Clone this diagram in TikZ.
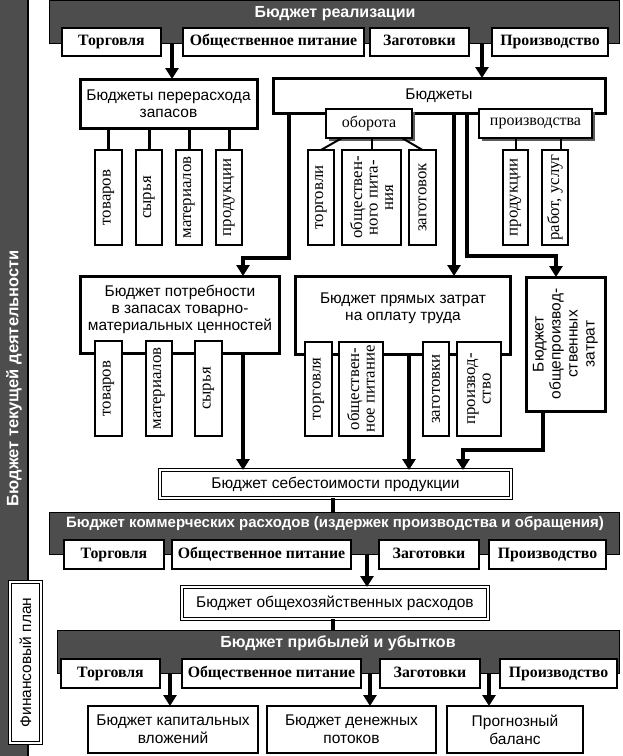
\documentclass[tikz,border=0pt]{standalone}
\usepackage{fontspec}
\setmainfont{Liberation Serif}
\setsansfont{Liberation Sans}
\usetikzlibrary{arrows.meta,shadows}
\definecolor{darkband}{RGB}{77,77,77}
\definecolor{shadowgrey}{RGB}{90,90,90}
\begin{document}
\begin{tikzpicture}[x=1pt,y=-1pt,
  sz/.style 2 args={minimum width=#1pt, minimum height=#2pt},
  base/.style={inner sep=0pt, outer sep=0pt, align=center},
  stripbox/.style={base, fill=darkband, rotate=90, text=white, font=\sffamily\bfseries\fontsize{16.5}{18}\selectfont},
  band/.style={base, draw=black, fill=darkband, line width=1pt},
  bandtitle/.style={inner sep=0pt, text=white, font=\sffamily\bfseries\fontsize{16}{18}\selectfont},
  lab/.style={base, draw=black, fill=white, line width=1.5pt, text height=11pt, text depth=3.5pt, font=\rmfamily\bfseries\fontsize{15.8}{17}\selectfont},
  bigbox/.style={base, draw=black, fill=white, line width=3pt, font=\sffamily\fontsize{15.5}{17}\selectfont},
  plainbox/.style={base, draw=black, fill=white, line width=2pt, font=\sffamily\fontsize{15.5}{18}\selectfont},
  dbox/.style={base, draw=black, fill=white, double=white, double distance=2pt, line width=1.2pt, font=\sffamily\fontsize{15.5}{17}\selectfont},
  shbox/.style={base, draw=black, fill=white, line width=1.5pt, font=\rmfamily\fontsize{16}{17}\selectfont, drop shadow={shadow xshift=3pt, shadow yshift=-3pt, fill=shadowgrey, opacity=1}},
  vbox/.style={base, draw=black, fill=white, line width=1.4pt, rotate=90, font=\rmfamily\fontsize{16.8}{15.5}\selectfont},
  boxtext/.style={inner sep=0pt, align=center, font=\sffamily\fontsize{15.5}{17}\selectfont},
  arr/.style={line width=4.5pt, -{Triangle[width=13pt,length=11pt]}},
  thickline/.style={line width=4pt},
  conn/.style={line width=3pt},
  thinconn/.style={line width=2pt}
]
\useasboundingbox (0,0) rectangle (622,756);
\fill[white] (0,0) rectangle (622,756);

% left strip
\node[stripbox, sz={756}{28}] (strip) at (14,378) {Бюджет текущей деятельности};
\draw[line width=1.5pt] (strip.south west) -- (strip.south east);
\node[dbox, rotate=90, sz={161}{31}] (fin) at (25.5,662.5) {Финансовый план};

% band 1
\node[band, sz={570}{43}] (band1) at (334,21.5) {};
\node[bandtitle] (title1) at (335,14) {Бюджет реализации};
\node[lab, sz={99}{28}] (t1) at (111.5,42) {Торговля};
\node[lab, sz={181}{28}] (o1) at (273.5,42) {Общественное питание};
\node[lab, sz={99}{28}] (z1) at (419.5,42) {Заготовки};
\node[lab, sz={116}{28}] (p1) at (550,42) {Производство};

% row 2
\node[bigbox, sz={177}{49}] (perer) at (168.5,103.5) {Бюджеты перерасхода\\запасов};
\node[bigbox, sz={332}{35}] (byud) at (439,95.5) {Бюджеты};
\node[shbox, sz={86}{29}] (ob) at (369,123.5) {оборота};
\node[shbox, sz={113}{29}] (pr) at (535.5,123.5) {производства};

\node[vbox, sz={95}{27}] (v1) at (108.5,197.5) {товаров};
\node[vbox, sz={95}{26}] (v2) at (149,197.5) {сырья};
\node[vbox, sz={95}{26}] (v3) at (189,197.5) {материалов};
\node[vbox, sz={95}{26}] (v4) at (229,197.5) {продукции};
\node[vbox, sz={95}{26}] (v5) at (321,197.5) {торговли};
\node[vbox, sz={95}{59}] (v6) at (371.5,197.5) {обществен-\\ного пита-\\ния};
\node[vbox, sz={95}{27}] (v7) at (422.5,197.5) {заготовок};
\node[vbox, sz={95}{25}] (v8) at (515.5,197.5) {продукции};
\node[vbox, sz={95}{26}] (v9) at (555,197.5) {работ, услуг};

% row 3
\node[bigbox, sz={199}{77}] (potreb) at (179.5,314.5) {};
\node[boxtext] (potrebtxt) at (180,309) {Бюджет потребности\\в запасах товарно-\\материальных ценностей};
\node[vbox, sz={95}{27}] (v10) at (108.5,388.5) {товаров};
\node[vbox, sz={95}{26}] (v11) at (159,388.5) {материалов};
\node[vbox, sz={95}{27}] (v12) at (208.5,388.5) {сырья};

\node[bigbox, sz={215}{78}] (pryam) at (402.5,315) {};
\node[boxtext] (pryamtxt) at (403,308.5) {Бюджет прямых затрат\\на оплату труда};
\node[vbox, sz={94}{27}] (v13) at (318.5,389) {торговля};
\node[vbox, sz={94}{44}] (v14) at (361,389) {обществен-\\ное питание};
\node[vbox, sz={94}{26}] (v15) at (436,389) {заготовки};
\node[vbox, sz={94}{44}] (v16) at (479,389) {производ-\\ство};

\node[bigbox, rotate=90, sz={134}{79}] (obshpr) at (565.5,344) {Бюджет\\общепроизвод-\\ственных\\затрат};

\node[dbox, sz={351}{28}] (sebest) at (335.5,484) {Бюджет себестоимости продукции};

% band 2
\node[band, sz={570}{42}] (band2) at (334,533) {};
\node[bandtitle, font=\sffamily\bfseries\fontsize{15}{16}\selectfont] (title2) at (335,524) {Бюджет коммерческих расходов (издержек производства и обращения)};
\node[lab, sz={100}{29}] (t2) at (114,554.5) {Торговля};
\node[lab, sz={179}{29}] (o2) at (261.5,554.5) {Общественное питание};
\node[lab, sz={100}{29}] (z2) at (429,554.5) {Заготовки};
\node[lab, sz={117}{29}] (p2) at (547.5,554.5) {Производство};

\node[dbox, sz={306}{32}] (obshhoz) at (335,603) {Бюджет общехозяйственных расходов};

% band 3
\node[band, sz={562}{43}] (band3) at (338,651.5) {};
\node[bandtitle] (title3) at (338,643) {Бюджет прибылей и убытков};
\node[lab, sz={99}{29}] (t3) at (110.5,673.5) {Торговля};
\node[lab, sz={179}{29}] (o3) at (271.5,673.5) {Общественное питание};
\node[lab, sz={100}{29}] (z3) at (430,673.5) {Заготовки};
\node[lab, sz={117}{29}] (p3) at (558.5,673.5) {Производство};

\node[plainbox, sz={170}{47}] (kap) at (173,729.5) {Бюджет капитальных\\вложений};
\node[plainbox, sz={169}{47}] (den) at (351.5,729.5) {Бюджет денежных\\потоков};
\node[plainbox, sz={136}{47}] (prog) at (515,729.5) {Прогнозный\\баланс};

% connectors
\coordinate (a1) at (172,0);
\coordinate (a2) at (482,0);
\draw[arr] (band1.south -| a1) -- (perer.north -| a1);
\draw[arr] (band1.south -| a2) -- (byud.north -| a2);

\foreach \v in {v1,v2,v3,v4} \draw[conn] (\v.east) -- (\v.east |- perer.south);
\draw[thinconn] ([xshift=16pt]ob.south west) -- (v5.east);
\draw[thinconn] (v6.east) -- (v6.east |- ob.south);
\draw[thinconn] ([xshift=-10pt]ob.south east) -- (v7.east);
\draw[thinconn] (v8.east) -- (v8.east |- pr.south);
\coordinate (q9) at ([xshift=6pt]v9.east);
\draw[thinconn] (q9) -- (q9 |- pr.south);

\coordinate (k1) at (289,258);
\coordinate (k2) at (243,258);
\draw[arr] (byud.south -| k1) -- (k1) -- (k2) -- (potreb.north -| k2);
\coordinate (k3) at (454,0);
\draw[arr] (byud.south -| k3) -- (pryam.north -| k3);
\coordinate (k4) at (467,256);
\coordinate (k5) at (556,256);
\draw[arr] (byud.south -| k4) -- (k4) -- (k5) -- (obshpr.east -| k5);

\coordinate (s1) at (243,0);
\draw[arr] (potreb.south -| s1) -- (sebest.north -| s1);
\coordinate (s2) at (409,0);
\draw[arr] (pryam.south -| s2) -- (sebest.north -| s2);
\coordinate (s3) at (543,450);
\coordinate (s4) at (463,450);
\draw[arr] (obshpr.west -| s3) -- (s3) -- (s4) -- (sebest.north -| s4);

\coordinate (m1) at (333,0);
\draw[thickline] (sebest.south -| m1) -- (band2.north -| m1);
\coordinate (m2) at (367,0);
\draw[arr] (band2.south -| m2) -- (obshhoz.north -| m2);
\draw[thickline] (obshhoz.south -| m1) -- (band3.north -| m1);

\coordinate (b1) at (170,0);
\coordinate (b2) at (370,0);
\coordinate (b3) at (489,0);
\draw[arr] (band3.south -| b1) -- (kap.north -| b1);
\draw[arr] (band3.south -| b2) -- (den.north -| b2);
\draw[arr] (band3.south -| b3) -- (prog.north -| b3);
\end{tikzpicture}
\end{document}
